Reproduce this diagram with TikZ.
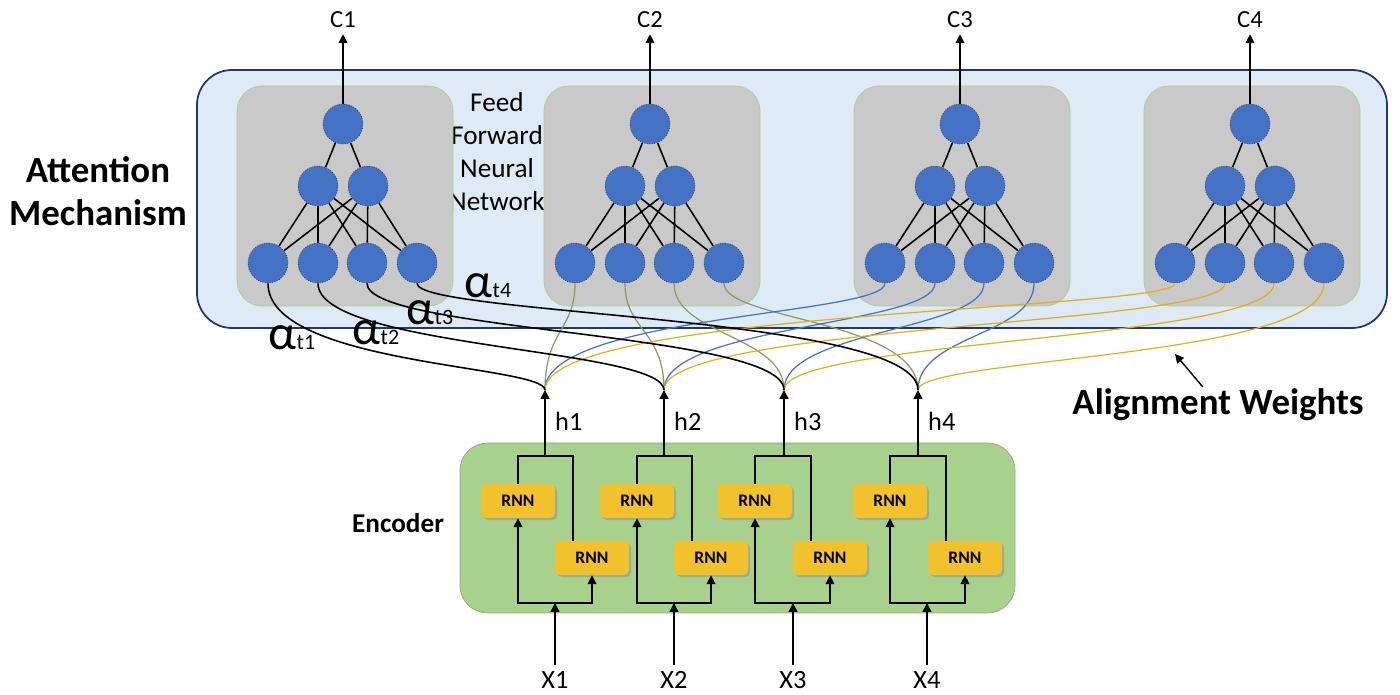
\documentclass[tikz,border=0pt]{standalone}
\usepackage{fontspec}
\setmainfont{Carlito}
\usetikzlibrary{arrows.meta,shadows}
\definecolor{panelblue}{HTML}{DEEAF6}
\definecolor{panelnavy}{HTML}{1F3864}
\definecolor{ffgray}{HTML}{C9C9C9}
\definecolor{ffedge}{HTML}{A9D08E}
\definecolor{unitblue}{HTML}{4472C4}
\definecolor{encgreen}{HTML}{A9D18E}
\definecolor{encedge}{HTML}{8FAA78}
\definecolor{rnngold}{HTML}{F2C12E}
\definecolor{wireolive}{HTML}{8A9A64}
\definecolor{wiregold}{HTML}{E2AE1C}
\tikzset{
neuron/.style={circle, fill=unitblue, draw=black!80, densely dotted, inner sep=0pt, minimum size=0.8cm},
rnnbox/.style={rounded corners=0.1cm, fill=rnngold, minimum width=1.48cm, minimum height=0.68cm, font=\bfseries\fontsize{10}{12}\selectfont, drop shadow={shadow xshift=1.2pt, shadow yshift=-1.2pt, fill=black!45}},
flow/.style={-{Triangle[length=5pt,width=5pt]}, line width=0.8pt},
netedge/.style={line width=0.9pt},
}

\begin{document}
\begin{tikzpicture}[x=0.02cm, y=-0.02cm, font=\fontsize{15}{18}\selectfont]
\useasboundingbox (0,0) rectangle (1400,695);
\draw[panelnavy, fill=panelblue, line width=1pt, rounded corners=0.7cm] (197,70) rectangle (1387,328);
\node[font=\bfseries\fontsize{21}{24.5}\selectfont, align=center] (attn) at (98,191) {Attention\\Mechanism};
\node[align=center, font=\fontsize{15.5}{18.8}\selectfont] (ffnn) at (497,152) {Feed\\Forward\\Neural\\Network};
\foreach \i/\cx in {1/343,2/650,3/960,4/1250}
{
\draw[ffedge, fill=ffgray, rounded corners=0.5cm] (\cx-106,86) rectangle (\cx+110,306);
\node[neuron] (out\i) at (\cx,124) {};
\node[neuron] (mid\i-1) at (\cx-25,186) {};
\node[neuron] (mid\i-2) at (\cx+25,186) {};
\foreach \k/\dx in {1/-75,2/-25,3/24,4/74}
\node[neuron] (in\i-\k) at (\cx+\dx,263) {};
\foreach \m in {1,2}
{
\draw[netedge] (mid\i-\m) -- (out\i);
\foreach \k in {1,...,4}
\draw[netedge] (mid\i-\m) -- (in\i-\k);
}
\node[font=\fontsize{14}{16}\selectfont] (c\i) at (\cx,20) {C\i};
\draw[flow] (out\i) -- (c\i);
}
\draw[encedge, fill=encgreen, rounded corners=0.55cm] (460,443) rectangle (1015,613);
\node[font=\bfseries\fontsize{15.5}{18}\selectfont] (enc) at (398,523) {Encoder};
\foreach \j/\ux/\lx/\xx/\hx in {1/518/592/555/545,2/637/711/674/664,3/755/830/793/784,4/890/965/927/918}
{
\node[rnnbox] (up\j) at (\ux,501) {RNN};
\node[rnnbox] (lo\j) at (\lx,558) {RNN};
\coordinate (top\j) at (\hx,456);
\coordinate (h\j) at (\hx,390);
\coordinate (join\j) at (\xx,603);
\node (x\j) at (\xx,680) {X\j};
\node[anchor=west] (hl\j) at (\hx+4,421) {h\j};
\draw[netedge] (up\j.north) |- (top\j) -| ([xshift=-0.38cm]lo\j.north);
\draw[flow] (top\j) -- (h\j);
\draw[flow] (x\j) -- (join\j);
\draw[flow] (join\j) -| (up\j.south);
\draw[flow] (join\j) -| (lo\j.south);
}
\foreach \i/\col/\lw/\ya/\yb/\yc/\yd in {2/wireolive/0.7/330/330/335/320,3/unitblue/0.7/315/325/330/335,4/wiregold/0.7/310/325/340/358,1/black/0.9/365/348/332/315}
\foreach \k/\yf in {1/\ya,2/\yb,3/\yc,4/\yd}
\draw[\col, line width=\lw pt] (in\i-\k.south) .. controls +(0,\yf-283) and +(0,\yf-390) .. (h\k);
\foreach \k/\ax/\ay in {1/292/350,2/376/345,3/430/325,4/488/298}
\node[anchor=base] (alpha\k) at (\ax,\ay) {{\fontsize{28}{28}\selectfont α}{\fontsize{12.5}{12.5}\selectfont t\k}};
\node[font=\bfseries\fontsize{21}{25}\selectfont, inner sep=1pt] (alw) at (1218,405) {Alignment Weights};
\coordinate (awtip) at (1175,354);
\draw[flow] (alw) -- (awtip);
\end{tikzpicture}
\end{document}
